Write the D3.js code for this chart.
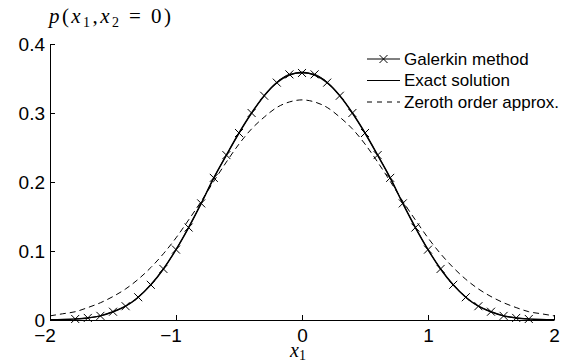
<!DOCTYPE html>
<html>
<head>
<meta charset="utf-8">
<script src="https://cdn.jsdelivr.net/npm/d3@7"></script>
<style>
  body { margin: 0; background: #fff; }
  svg { display: block; }
</style>
</head>
<body>
<svg id="chart" width="568" height="362"></svg>
<script>
// x positions of the sampled curves
let xGrid = [-2.0, -1.9, -1.8, -1.7, -1.6, -1.5, -1.4, -1.3, -1.2, -1.1, -1.0,
             -0.9, -0.8, -0.7, -0.6, -0.5, -0.4, -0.3, -0.2, -0.1, 0.0,
             0.1, 0.2, 0.3, 0.4, 0.5, 0.6, 0.7, 0.8, 0.9, 1.0,
             1.1, 1.2, 1.3, 1.4, 1.5, 1.6, 1.7, 1.8, 1.9, 2.0];

// exact solution
let exactVals = [0.0003, 0.0007, 0.0015, 0.003, 0.006, 0.012, 0.020, 0.033, 0.051, 0.074, 0.102,
                 0.134, 0.169, 0.206, 0.239, 0.271, 0.300, 0.325, 0.344, 0.355, 0.359,
                 0.355, 0.344, 0.325, 0.300, 0.271, 0.239, 0.206, 0.169, 0.134, 0.102,
                 0.074, 0.051, 0.033, 0.020, 0.012, 0.006, 0.003, 0.0015, 0.0007, 0.0003];

// zeroth order approximation (dashed)
let zerothVals = [0.006, 0.009, 0.012, 0.018, 0.025, 0.034, 0.045, 0.059, 0.076, 0.096, 0.119,
                  0.145, 0.172, 0.201, 0.229, 0.255, 0.277, 0.294, 0.308, 0.316, 0.319,
                  0.316, 0.308, 0.294, 0.277, 0.255, 0.229, 0.201, 0.172, 0.145, 0.119,
                  0.096, 0.076, 0.059, 0.045, 0.034, 0.025, 0.018, 0.012, 0.009, 0.006];

// Galerkin method, markers every 0.1 from -1.8 to 1.8
let galerkinX = [-1.8, -1.7, -1.6, -1.5, -1.4, -1.3, -1.2, -1.1, -1.0,
                 -0.9, -0.8, -0.7, -0.6, -0.5, -0.4, -0.3, -0.2, -0.1, 0.0,
                 0.1, 0.2, 0.3, 0.4, 0.5, 0.6, 0.7, 0.8, 0.9, 1.0,
                 1.1, 1.2, 1.3, 1.4, 1.5, 1.6, 1.7, 1.8];
let galerkinVals = [0.0015, 0.003, 0.006, 0.012, 0.020, 0.033, 0.051, 0.074, 0.102,
                    0.134, 0.169, 0.206, 0.239, 0.271, 0.300, 0.325, 0.344, 0.356, 0.358,
                    0.356, 0.344, 0.325, 0.300, 0.271, 0.239, 0.206, 0.169, 0.134, 0.102,
                    0.074, 0.051, 0.033, 0.020, 0.012, 0.006, 0.003, 0.0015];

let xTicks = [-2, -1, 0, 1, 2];
let yTicks = [0, 0.1, 0.2, 0.3, 0.4];

let legendItems = [
    { label: 'Galerkin method', dash: null, marker: true },
    { label: 'Exact solution', dash: null, marker: false },
    { label: 'Zeroth order approx.', dash: '5,5', marker: false }
];

let svg = d3.select('#chart');
let plotLeft = 50, plotRight = 554, plotTop = 44, plotBottom = 320;

let x = d3.scaleLinear().domain([-2, 2]).range([plotLeft, plotRight]);
let y = d3.scaleLinear().domain([0, 0.4]).range([plotBottom, plotTop]);

let fmtTick = (d) => d3.format('.1~f')(d).replace('-', '\u2212');

// axes: ticks point inward, no box
let xAxis = svg.append('g')
    .attr('transform', `translate(0,${plotBottom})`)
    .call(d3.axisBottom(x).tickValues(xTicks).tickSize(-5).tickPadding(9).tickFormat(fmtTick).tickSizeOuter(0));
let yAxis = svg.append('g')
    .attr('transform', `translate(${plotLeft},0)`)
    .call(d3.axisLeft(y).tickValues(yTicks).tickSize(-5).tickPadding(5).tickFormat(fmtTick).tickSizeOuter(0));

[xAxis, yAxis].forEach((g) => {
    g.select('.domain').attr('stroke', '#000').attr('stroke-width', 1);
    g.selectAll('.tick line').attr('stroke', '#000').attr('stroke-width', 1);
    g.selectAll('.tick text')
        .attr('fill', '#000')
        .style('font-family', '"Liberation Sans", Arial, sans-serif')
        .style('font-size', '19px');
});
// digits sit centred on the tick, the minus sign hangs to the left
xAxis.selectAll('.tick text')
    .attr('dy', '0.71em')
    .attr('dx', (d) => (d < 0 ? '-0.29em' : 0));
yAxis.selectAll('.tick text').attr('dy', '0.34em');

// curves
let line = d3.line()
    .x((d) => x(d[0]))
    .y((d) => y(d[1]))
    .curve(d3.curveMonotoneX);

svg.append('path')
    .datum(xGrid.map((v, i) => [v, zerothVals[i]]))
    .attr('fill', 'none')
    .attr('stroke', '#000')
    .attr('stroke-width', 1)
    .attr('stroke-dasharray', '6,4')
    .attr('d', line);

svg.append('path')
    .datum(xGrid.map((v, i) => [v, exactVals[i]]))
    .attr('fill', 'none')
    .attr('stroke', '#000')
    .attr('stroke-width', 1.5)
    .attr('d', line);

let galerkin = galerkinX.map((v, i) => [v, galerkinVals[i]]);
svg.append('path')
    .datum(galerkin)
    .attr('fill', 'none')
    .attr('stroke', '#000')
    .attr('stroke-width', 1)
    .attr('d', line);

let cross = (sel, cx, cy, r) => {
    sel.append('path')
        .attr('d', `M${cx - r},${cy - r}L${cx + r},${cy + r}M${cx - r},${cy + r}L${cx + r},${cy - r}`)
        .attr('stroke', '#000')
        .attr('stroke-width', 1)
        .attr('fill', 'none');
};
let markers = svg.append('g');
galerkin.forEach((d) => cross(markers, x(d[0]), y(d[1]), 4));

// legend
let legend = svg.append('g');
legendItems.forEach((item, i) => {
    let ly = 59 + i * 21.5;
    legend.append('line')
        .attr('x1', 367).attr('x2', 400)
        .attr('y1', ly).attr('y2', ly)
        .attr('stroke', '#000')
        .attr('stroke-width', 1)
        .attr('stroke-dasharray', item.dash);
    if (item.marker) cross(legend, 383.5, ly, 4);
    legend.append('text')
        .attr('x', 404)
        .attr('y', ly)
        .attr('dy', '0.35em')
        .attr('text-anchor', 'start')
        .style('font-family', '"Liberation Sans", Arial, sans-serif')
        .style('font-size', '17px')
        .text(item.label);
});

// axis titles (math style)
let title = svg.append('text')
    .attr('x', 49)
    .attr('y', 23)
    .attr('text-anchor', 'start')
    .attr('textLength', 122)
    .attr('lengthAdjust', 'spacing')
    .style('font-family', '"Liberation Serif", "DejaVu Serif", serif')
    .style('font-size', '21px');
title.append('tspan').style('font-style', 'italic').text('p');
title.append('tspan').text('(');
title.append('tspan').style('font-style', 'italic').text('x');
title.append('tspan').attr('font-size', '14px').attr('dy', 4).text('1');
title.append('tspan').attr('dy', -4).text(',');
title.append('tspan').style('font-style', 'italic').text('x');
title.append('tspan').attr('font-size', '14px').attr('dy', 4).text('2');
title.append('tspan').attr('dy', -4).text(' = 0)');

let xlabel = svg.append('text')
    .attr('x', 290)
    .attr('y', 357)
    .attr('text-anchor', 'start')
    .style('font-family', '"Liberation Serif", "DejaVu Serif", serif')
    .style('font-size', '20px');
xlabel.append('tspan').style('font-style', 'italic').text('x');
xlabel.append('tspan').attr('font-size', '14px').attr('dy', 3).text('1');
</script>
</body>
</html>
